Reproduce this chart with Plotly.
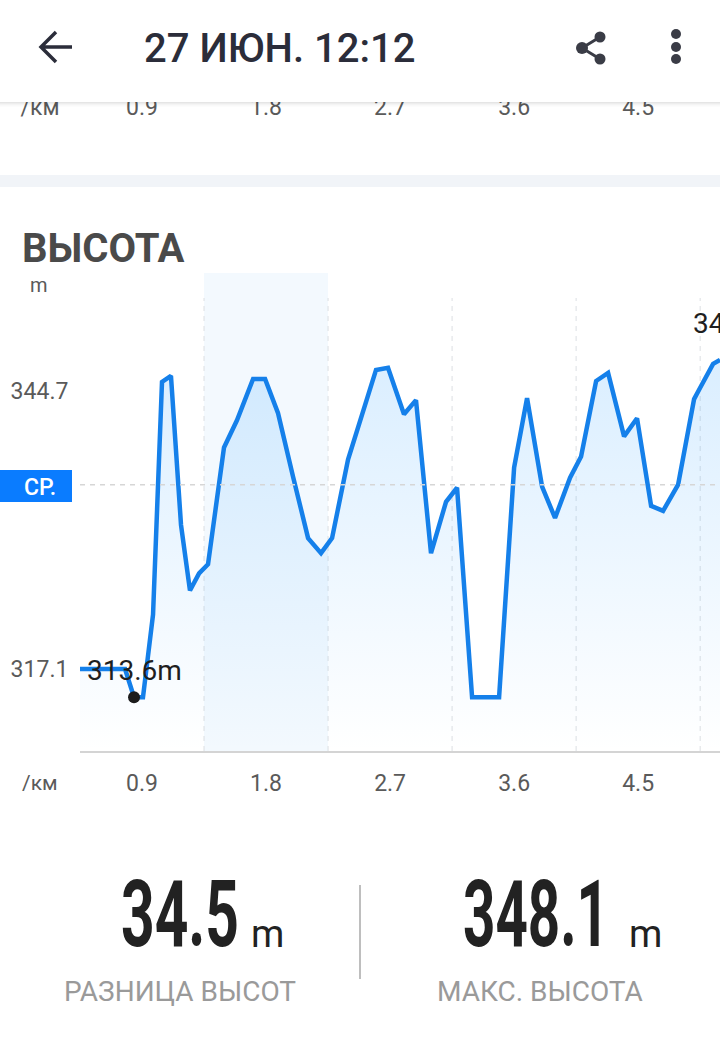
import plotly.graph_objects as go

W, H = 720, 1044

# Data
km = [0.45, 0.777, 0.842, 0.907, 0.98, 1.045, 1.11, 1.183, 1.248, 1.314, 1.379, 1.495, 1.589, 1.706, 1.793,
      1.887, 1.996, 2.105, 2.199, 2.279, 2.395, 2.511, 2.598, 2.685, 2.801, 2.888, 2.997, 3.106, 3.186,
      3.295, 3.491, 3.6, 3.694, 3.803, 3.897, 4.006, 4.086, 4.195, 4.282, 4.398, 4.492, 4.594, 4.681,
      4.79, 4.906, 4.949, 5.044, 5.094]
elevation = [317.1, 317.1, 314.3, 314.3, 322.5, 345.6, 346.2, 331.4, 324.9, 326.6, 327.5, 339.1, 341.8, 345.9, 345.9,
             342.5, 336.2, 330.1, 328.6, 330.1, 337.9, 343.0, 346.8, 347.0, 342.4, 343.8, 328.6, 333.7, 335.1,
             314.3, 314.3, 337.1, 344.0, 335.2, 332.1, 336.1, 338.2, 345.7, 346.5, 340.2, 342.0, 333.3, 332.8,
             335.4, 343.9, 345.0, 347.4, 347.8]
x_ticks = [0.9, 1.8, 2.7, 3.6, 4.5]
x_tick_labels = ["0.9", "1.8", "2.7", "3.6", "4.5"]
y_ticks = [317.1, 344.7]
y_tick_labels = ["317.1", "344.7"]
grid_km = [1.35, 2.25, 3.15, 4.05, 4.95]
band_km = [1.35, 2.25]
average = 335.4
min_km, min_val = 0.842, 314.3
unit_km = 0.16

INK = "#2b2d3a"
TICK = "#5a5a5a"
BLUE = "#1580ea"


def px(x):
    return x / W


def py(y):
    return 1 - y / H


fig = go.Figure()

fig.add_trace(go.Scatter(
    x=km, y=elevation, mode="lines", line=dict(color=BLUE, width=4.5), fill="tozeroy",
    fillgradient=dict(type="vertical", start=348, stop=309,
                      colorscale=[[0, "rgba(60,165,255,0.19)"], [1, "rgba(60,165,255,0)"]]),
    hoverinfo="skip", showlegend=False))
fig.add_trace(go.Scatter(
    x=[min_km], y=[min_val], mode="markers", marker=dict(color="#1c1c1c", size=12),
    hoverinfo="skip", showlegend=False))
# Scrolled tick row, cut off by the header
fig.add_trace(go.Scatter(
    x=[unit_km] + x_ticks, y=[0.75] * 6, xaxis="x2", yaxis="y2", mode="text", text=["/км"] + x_tick_labels,
    cliponaxis=True, textposition="middle center",
    textfont=dict(family="Roboto", size=23, color=TICK), hoverinfo="skip", showlegend=False))

fig.update_layout(
    width=W, height=H, margin=dict(l=0, r=0, t=0, b=0), paper_bgcolor="white", plot_bgcolor="rgba(0,0,0,0)",
    showlegend=False,
    xaxis=dict(domain=[px(80), 1], range=[0.45, 5.094], tickmode="array", tickvals=x_ticks, ticktext=x_tick_labels,
               showgrid=False, zeroline=False, showline=True, linecolor="#d4d4d4", linewidth=2,
               ticks="outside", ticklen=10, tickcolor="rgba(0,0,0,0)",
               tickfont=dict(family="Roboto", size=23, color=TICK)),
    yaxis=dict(domain=[py(751), py(298)], range=[308.96, 353.94], tickmode="array", tickvals=y_ticks,
               ticktext=y_tick_labels, showgrid=False, zeroline=False, showline=False,
               ticks="outside", ticklen=6, tickcolor="rgba(0,0,0,0)",
               tickfont=dict(family="Roboto", size=23, color=TICK)),
    xaxis2=dict(domain=[0, 1], range=[-0.1305, 5.094], visible=False, anchor="y2"),
    yaxis2=dict(domain=[py(130), py(102)], range=[0, 1], visible=False, anchor="x2"),
)

shapes = []
# Section separator
shapes.append(dict(type="rect", xref="paper", yref="paper", x0=0, x1=1, y0=py(187), y1=py(175),
                   fillcolor="#f1f4f8", line_width=0, layer="below"))
# Highlight band
shapes.append(dict(type="rect", xref="x", yref="paper", x0=band_km[0], x1=band_km[1], y0=py(751), y1=py(273),
                   fillcolor="#f3f9fe", line_width=0, layer="below"))
for g in grid_km:
    shapes.append(dict(type="line", xref="x", yref="paper", x0=g, x1=g, y0=py(751), y1=py(298),
                       line=dict(color="#dcdfe3", width=1, dash="5px,5px"), layer="below"))
shapes.append(dict(type="line", xref="x", yref="y", x0=0.45, x1=5.094, y0=average, y1=average,
                   line=dict(color="#d6d6d6", width=1.5, dash="5px,5px"), layer="above"))
# Average tag
shapes.append(dict(type="rect", xref="paper", yref="paper", x0=0, x1=px(72), y0=py(502), y1=py(470),
                   fillcolor="#0a7cff", line_width=0))
# Header shadow
for i, a in enumerate([0.10, 0.07, 0.045, 0.025, 0.012]):
    shapes.append(dict(type="rect", xref="paper", yref="paper", x0=0, x1=1, y0=py(103 + i), y1=py(102 + i),
                       fillcolor=f"rgba(0,0,0,{a})", line_width=0))
# Back arrow
shapes.append(dict(type="path", xref="paper", yref="paper",
                   path=f"M {px(72)} {py(47)} L {px(42)} {py(47)} M {px(56)} {py(32)} L {px(41)} {py(47)} L {px(56)} {py(62)}",
                   line=dict(color=INK, width=3.5)))
# Share icon
shapes.append(dict(type="path", xref="paper", yref="paper",
                   path=f"M {px(600)} {py(37)} L {px(582)} {py(48)} L {px(600)} {py(59)}",
                   line=dict(color="#3a3c46", width=3)))
for cx, cy, r in [(600, 37, 5.5), (582, 48, 6), (600, 59, 5.5), (676, 34, 5), (676, 47, 5), (676, 59, 5)]:
    shapes.append(dict(type="circle", xref="paper", yref="paper", x0=px(cx - r), x1=px(cx + r),
                       y0=py(cy + r), y1=py(cy - r), fillcolor="#3a3c46", line_width=0))
# Divider in the footer
shapes.append(dict(type="line", xref="paper", yref="paper", x0=px(360), x1=px(360), y0=py(979), y1=py(885),
                   line=dict(color="#a8a8a8", width=1.5)))
fig.update_layout(shapes=shapes)


def label(text, x, y, size, color, anchor="center", weight=None):
    fig.add_annotation(text=text, xref="paper", yref="paper", x=px(x), y=py(y), showarrow=False,
                       xanchor=anchor, yanchor="middle", borderpad=0,
                       font=dict(family="Roboto", size=size, color=color, weight=weight))


label("27 ИЮН. 12:12", 143, 49, 40, INK, "left", 500)
label("ВЫСОТА", 21, 248, 40, "#4a4a4a", "left", 700)
label("m", 39, 285, 20, TICK)
label("/км", 40, 783, 21, TICK)
label("СР.", 40, 488, 23, "white", weight=500)
label("313.6m", 134, 670, 28, "#1f1f1f")
label("348.1m", 692, 323, 28, "#1f1f1f", "left")
label("34.5", 120, 914, 92, "#222222", "left", 700)
label("m", 250, 934, 38, "#222222", "left")
label("348.1", 462, 914, 92, "#222222", "left", 700)
label("m", 628, 934, 38, "#222222", "left")
label("РАЗНИЦА ВЫСОТ", 180, 991, 28, "#9a9a9a")
label("МАКС. ВЫСОТА", 540, 991, 28, "#9a9a9a")

# Remove the page margin; narrow the two big figures to the condensed look of the original
post = """
document.body.style.margin = '0';
var targets = {'34.5': 118, '348.1': 146};
document.querySelectorAll('.annotation-text').forEach(function (el) {
  var t = targets[el.textContent];
  if (t) {
    var s = t / el.getBBox().width;
    el.style.transformBox = 'fill-box';
    el.style.transformOrigin = 'left center';
    el.style.transform = 'scaleX(' + s + ')';
  }
});
"""
fig.write_html("out.html", config=dict(displayModeBar=False), post_script=post)
